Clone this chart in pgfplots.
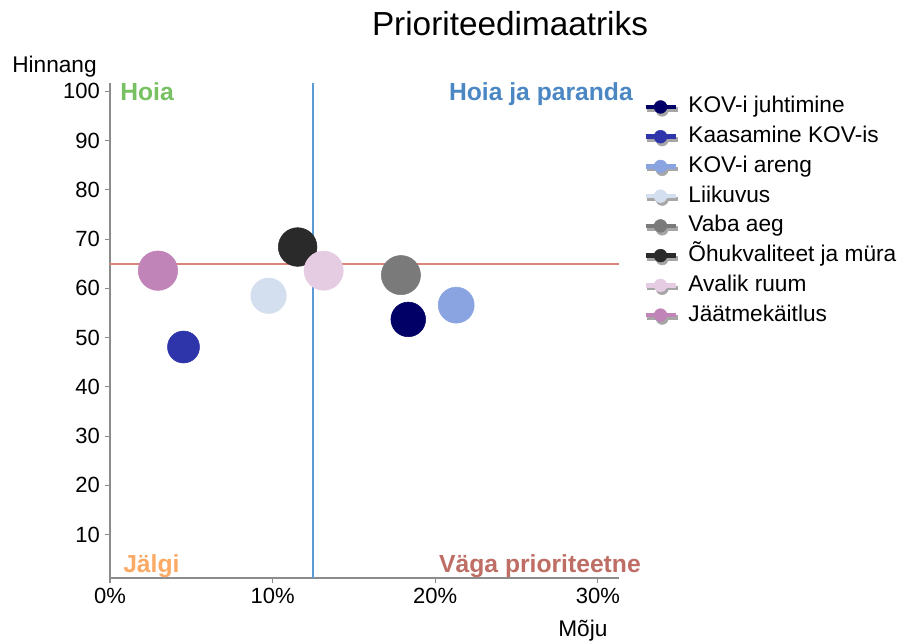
\documentclass[border=0pt]{standalone}
\usepackage{fontspec}
\setmainfont{Liberation Sans}
\usepackage{pgfplots}
\pgfplotsset{compat=1.18}
\definecolor{cA}{HTML}{000066}
\definecolor{cB}{HTML}{2E35AA}
\definecolor{cC}{HTML}{8AA4E2}
\definecolor{cD}{HTML}{D3DEEE}
\definecolor{cE}{HTML}{7A7A7A}
\definecolor{cF}{HTML}{2A2A2A}
\definecolor{cG}{HTML}{E6CCE2}
\definecolor{cH}{HTML}{C084B8}
\definecolor{axisgray}{HTML}{8C8C8C}
\definecolor{myred}{HTML}{D9857A}
\definecolor{myblue}{HTML}{5B9BD5}
\definecolor{lgreen}{HTML}{77C163}
\definecolor{lblue}{HTML}{4B87C3}
\definecolor{lorange}{HTML}{FAAA64}
\definecolor{lred}{HTML}{BE6E64}
\begin{document}
\begin{tikzpicture}
\path[use as bounding box] (-82.5pt,-48.75pt) rectangle (607.5pt,433.5pt);
\begin{axis}[
  at={(0pt,0pt)}, anchor=south west,
  width=381.75pt, height=371.25pt, scale only axis,
  xmin=0, xmax=31.3, ymin=1.2, ymax=101.7,
  axis x line*=bottom, axis y line*=left,
  axis line style={-, draw=axisgray, line width=1pt},
  xtick={0,10,20,30}, xticklabels={0\%,10\%,20\%,30\%},
  ytick={10,20,...,100},
  tick align=outside, major tick length=4pt,
  major tick style={draw=axisgray, line width=0.8pt},
  tick label style={font=\fontsize{16.5}{18}\selectfont},
  /pgf/number format/assume math mode=true,
  clip=false,
  legend cell align=left,
  legend image code/.code={
    \fill[black!35] (12.5pt,-2.4pt) circle (4.6pt);
    \fill[black!35] (1.5pt,-3.2pt) rectangle (23.5pt,-0.5pt);
    \draw[#1, line width=3.4pt, mark=none] (0pt,0pt) -- (22.5pt,0pt);
    \fill[#1, mark=none] (11.25pt,0pt) circle (4.8pt);
  },
  legend style={at={(1.0471,0.9764)}, anchor=north west, draw=none, fill=none,
    inner sep=0pt, font=\fontsize{17}{20}\selectfont, row sep=4.3pt,
    nodes={inner sep=1pt, text height=12.5pt, text depth=3.5pt},
    /tikz/every odd column/.style={column sep=7pt}},
]
\addplot[mark=*, mark size=13pt, color=cA, mark options={draw=cA}] coordinates {(18.34,53.7)};
\addlegendentry{KOV-i juhtimine}
\addplot[mark=*, mark size=12pt, color=cB, mark options={draw=cB}] coordinates {(4.52,48.1)};
\addlegendentry{Kaasamine KOV-is}
\addplot[mark=*, mark size=13.5pt, color=cC, mark options={draw=cC}] coordinates {(21.29,56.6)};
\addlegendentry{KOV-i areng}
\addplot[mark=*, mark size=13.3pt, color=cD, mark options={draw=cD}] coordinates {(9.75,58.5)};
\addlegendentry{Liikuvus}
\addplot[mark=*, mark size=14.7pt, color=cE, mark options={draw=cE}] coordinates {(17.89,62.7)};
\addlegendentry{Vaba aeg}
\addplot[mark=*, mark size=14.5pt, color=cF, mark options={draw=cF}] coordinates {(11.54,68.4)};
\addlegendentry{Õhukvaliteet ja müra}
\addplot[mark=*, mark size=14.7pt, color=cG, mark options={draw=cG}] coordinates {(13.14,63.6)};
\addlegendentry{Avalik ruum}
\addplot[mark=*, mark size=14.8pt, color=cH, mark options={draw=cH}] coordinates {(2.95,63.6)};
\addlegendentry{Jäätmekäitlus}
\addplot[forget plot, color=myred, no markers, line width=1.3pt] coordinates {(0,65) (31.3,65)};
\addplot[forget plot, color=myblue, no markers, line width=1.3pt] coordinates {(12.5,1.2) (12.5,101.7)};
\end{axis}
\node[anchor=base, inner sep=0pt, font=\fontsize{25}{30}\selectfont] at (300pt,406.5pt) {Prioriteedimaatriks};
\node[anchor=base west, inner sep=0pt, font=\fontsize{17}{20}\selectfont] at (-73.5pt,378.75pt) {Hinnang};
\node[anchor=base west, inner sep=0pt, font=\fontsize{17}{20}\selectfont] at (336pt,-43.5pt) {Mõju};
\node[anchor=base west, inner sep=0pt, font=\fontsize{18.5}{20}\selectfont\bfseries, text=lgreen] at (7.5pt,357.75pt) {Hoia};
\node[anchor=base east, inner sep=0pt, font=\fontsize{18.5}{20}\selectfont\bfseries, text=lblue] at (392.25pt,357.75pt) {Hoia ja paranda};
\node[anchor=base west, inner sep=0pt, font=\fontsize{18.5}{20}\selectfont\bfseries, text=lorange] at (9.75pt,4.5pt) {Jälgi};
\node[anchor=base east, inner sep=0pt, font=\fontsize{18.5}{20}\selectfont\bfseries, text=lred] at (398.25pt,4.5pt) {Väga prioriteetne};
\end{tikzpicture}
\end{document}
